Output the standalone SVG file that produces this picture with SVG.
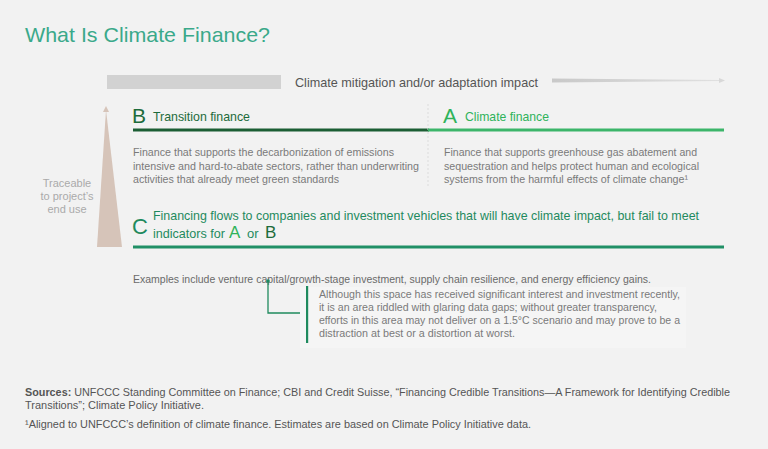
<svg xmlns="http://www.w3.org/2000/svg" width="768" height="449" viewBox="0 0 768 449">
<defs>
<style>
text{font-family:"Liberation Sans",Arial,sans-serif}
.body{font-size:11.5px;fill:#7a7a7a}
.hd{font-size:13px}
.big{font-size:21px}
.foot{font-size:10.5px;fill:#555}
</style>
<linearGradient id="fade" x1="0" x2="1" y1="0" y2="0">
<stop offset="0" stop-color="#c9c9c9"/><stop offset="1" stop-color="#e0e0e0"/>
</linearGradient>
</defs>
<rect width="768" height="449" fill="#f2f2f2"/>
<text x="25" y="42" font-size="21" fill="#3aa98a" textLength="245" lengthAdjust="spacingAndGlyphs">What Is Climate Finance?</text>

<g id="axis-impact">
<rect x="107" y="75" width="174" height="14" fill="#d2d2d2"/>
<text x="295" y="87" font-size="13" fill="#555" textLength="243" lengthAdjust="spacingAndGlyphs">Climate mitigation and/or adaptation impact</text>
<polygon points="552,78.5 720,80 720,81 552,82.5" fill="url(#fade)"/>
<polygon points="719,78 725,80.5 719,83" fill="#d8d8d8"/>
</g>

<g id="axis-traceable">
<polygon points="106,110 122,247 97,247" fill="#d6c4b9"/>
<polygon points="103,112 106,106 109,112" fill="#d6c4b9"/>
<text font-size="11" fill="#aaa" text-anchor="middle"><tspan x="67" y="187">Traceable</tspan><tspan x="67" y="200">to project’s</tspan><tspan x="67" y="213">end use</tspan></text>
</g>

<g id="node-b">
<text x="132" y="123" class="big" fill="#1d6b3b">B</text>
<text x="153" y="121" class="hd" fill="#1d6b3b" textLength="97" lengthAdjust="spacingAndGlyphs">Transition finance</text>
<rect x="133" y="128.5" width="296" height="3" fill="#1c5e34"/>
<text class="body"><tspan x="133" y="156" textLength="261" lengthAdjust="spacingAndGlyphs">Finance that supports the decarbonization of emissions</tspan><tspan x="133" y="169.5" textLength="286" lengthAdjust="spacingAndGlyphs">intensive and hard-to-abate sectors, rather than underwriting</tspan><tspan x="133" y="183" textLength="206" lengthAdjust="spacingAndGlyphs">activities that already meet green standards</tspan></text>
</g>

<g id="node-a">
<line x1="428" y1="104" x2="428" y2="186" stroke="#dcdcdc" stroke-width="1" stroke-dasharray="2,2"/>
<text x="443" y="123" class="big" fill="#2fb35a">A</text>
<text x="465" y="121" class="hd" fill="#2fb35a" textLength="84" lengthAdjust="spacingAndGlyphs">Climate finance</text>
<rect x="428" y="128.5" width="296" height="3" fill="#3cb56a"/>
<text class="body"><tspan x="444" y="156" textLength="253" lengthAdjust="spacingAndGlyphs">Finance that supports greenhouse gas abatement and</tspan><tspan x="444" y="169.5" textLength="255" lengthAdjust="spacingAndGlyphs">sequestration and helps protect human and ecological</tspan><tspan x="444" y="183" textLength="244" lengthAdjust="spacingAndGlyphs">systems from the harmful effects of climate change¹</tspan></text>
</g>

<g id="node-c">
<text x="132" y="234" font-size="22" fill="#1f8a5e">C</text>
<text x="153" y="219.5" class="hd" fill="#1f8a5e" textLength="546" lengthAdjust="spacingAndGlyphs">Financing flows to companies and investment vehicles that will have climate impact, but fail to meet</text>
<text x="153" y="238" class="hd" fill="#1f8a5e" textLength="72" lengthAdjust="spacingAndGlyphs">indicators for</text>
<text x="229" y="238" font-size="17" fill="#2fb35a">A</text>
<text x="247" y="238" class="hd" fill="#1f8a5e">or</text>
<text x="265" y="238" font-size="17" fill="#1d6b3b">B</text>
<rect x="133" y="245.5" width="591" height="3" fill="#219066"/>
<text x="133" y="283" font-size="11" fill="#6a6a6a" textLength="518" lengthAdjust="spacingAndGlyphs">Examples include venture capital/growth-stage investment, supply chain resilience, and energy efficiency gains.</text>
</g>

<g id="connectors">
<circle cx="268" cy="281" r="1.8" fill="#1f8a5e"/>
<polyline points="268,281 268,313 307,313" fill="none" stroke="#1f8a5e" stroke-width="1.3"/>
</g>

<g id="node-callout">
<rect x="300" y="287" width="386" height="61" fill="#f5f5f5"/>
<rect x="306" y="286" width="2.2" height="57" fill="#1f8a5e"/>
<text class="body" fill="#777"><tspan x="319" y="298" textLength="361" lengthAdjust="spacingAndGlyphs">Although this space has received significant interest and investment recently,</tspan><tspan x="319" y="311" textLength="338" lengthAdjust="spacingAndGlyphs">it is an area riddled with glaring data gaps; without greater transparency,</tspan><tspan x="319" y="324" textLength="361" lengthAdjust="spacingAndGlyphs">efforts in this area may not deliver on a 1.5°C scenario and may prove to be a</tspan><tspan x="319" y="337" textLength="196" lengthAdjust="spacingAndGlyphs">distraction at best or a distortion at worst.</tspan></text>
</g>

<g id="footer">
<text class="foot"><tspan x="25" y="396" textLength="705" lengthAdjust="spacingAndGlyphs"><tspan font-weight="bold">Sources:</tspan> UNFCCC Standing Committee on Finance; CBI and Credit Suisse, “Financing Credible Transitions—A Framework for Identifying Credible</tspan><tspan x="25" y="409" textLength="179" lengthAdjust="spacingAndGlyphs">Transitions”; Climate Policy Initiative.</tspan></text>
<text class="foot" x="25" y="428" textLength="506" lengthAdjust="spacingAndGlyphs">¹Aligned to UNFCCC’s definition of climate finance. Estimates are based on Climate Policy Initiative data.</text>
</g>
</svg>
